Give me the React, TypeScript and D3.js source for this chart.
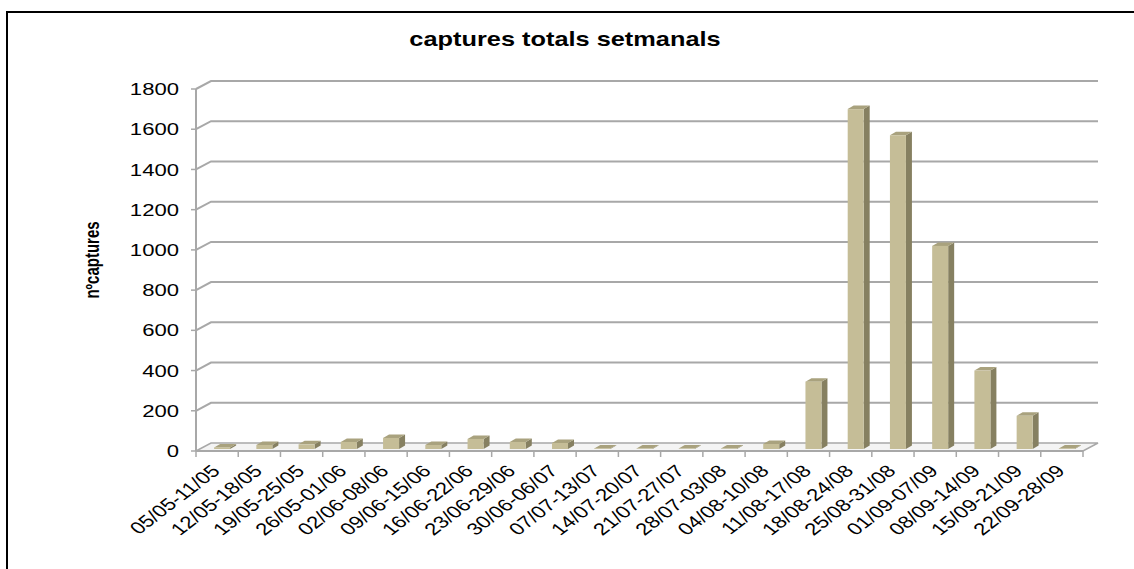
import React from "react";
import * as d3 from "d3";

const categories = [
  "05/05-11/05", "12/05-18/05", "19/05-25/05", "26/05-01/06", "02/06-08/06",
  "09/06-15/06", "16/06-22/06", "23/06-29/06", "30/06-06/07", "07/07-13/07",
  "14/07-20/07", "21/07-27/07", "28/07-03/08", "04/08-10/08", "11/08-17/08",
  "18/08-24/08", "25/08-31/08", "01/09-07/09", "08/09-14/09", "15/09-21/09",
  "22/09-28/09",
];
const values = [8, 20, 23, 35, 55, 20, 50, 35, 30, 3, 2, 2, 2, 25, 335, 1690, 1560, 1010, 390, 165, 3];
const yTicks = [0, 200, 400, 600, 800, 1000, 1200, 1400, 1600, 1800];
const title = "captures totals setmanals";
const yTitle = "nºcaptures";

const W = 1134;
const H = 569;
const FONT = "'Liberation Sans', Arial, Helvetica, sans-serif";
const SX = 1.3;
const DX = 15;
const DY = -8;
const GRID = "#a8a8a8";

export default function App() {
  const x = d3.scaleBand<string>().domain(categories).range([196, 1083]).padding(0);
  const y = d3.scaleLinear().domain([0, 1800]).range([451, 89]);
  const bw = x.bandwidth();
  const y0 = y(0);

  const barW = 16;
  const bdx = 6;
  const bdy = -3.5;
  const offY = -2;

  return (
    <svg width={W} height={H} style={{ position: "absolute", left: 0, top: 0, background: "#fff" }}>
      {/* frame */}
      <rect x={7} y={12} width={1150} height={600} fill="none" stroke="#000" strokeWidth={2} />

      {/* title */}
      <text
        transform={`translate(565,46) scale(${SX},1)`}
        textAnchor="middle"
        fontFamily={FONT}
        fontWeight="bold"
        fontSize={19.5}
        fill="#000"
      >
        {title}
      </text>

      {/* floor */}
      <polygon
        points={`196,${y0} ${196 + DX},${y0 + DY} ${1083 + DX},${y0 + DY} 1083,${y0}`}
        fill="#f4f4f4"
        stroke={GRID}
        strokeWidth={1.5}
      />

      {/* gridlines with depth */}
      {yTicks.map((t) => (
        <g key={t}>
          {t > 0 && (
            <polyline
              points={`196,${y(t)} ${196 + DX},${y(t) + DY} ${1083 + DX},${y(t) + DY}`}
              fill="none"
              stroke={GRID}
              strokeWidth={2}
            />
          )}
          <line x1={191} x2={196} y1={y(t)} y2={y(t)} stroke={GRID} strokeWidth={1.5} />
          <text
            transform={`translate(179,${y(t)}) scale(${SX},1)`}
            textAnchor="end"
            dy="0.36em"
            fontFamily={FONT}
            fontSize={17}
            fill="#000"
          >
            {t}
          </text>
        </g>
      ))}

      {/* y axis line */}
      <line x1={196} x2={196} y1={y(1800)} y2={y0} stroke={GRID} strokeWidth={2} />

      {/* x axis front line and ticks */}
      <line x1={196} x2={1083} y1={y0} y2={y0} stroke={GRID} strokeWidth={2} />
      {categories.map((c, i) => (
        <line key={"t" + c} x1={x(c)!} x2={x(c)!} y1={y0} y2={y0 + 6} stroke={GRID} strokeWidth={1.5} />
      ))}
      <line x1={1083} x2={1083} y1={y0} y2={y0 + 6} stroke={GRID} strokeWidth={1.5} />

      {/* bars */}
      {categories.map((c, i) => {
        const xc = x(c)! + bw / 2;
        const l = xc - 3;
        const r = l + barW;
        const top = y(values[i]) + offY;
        const bot = y0 + offY;
        return (
          <g key={"b" + c}>
            <polygon
              points={`${r},${bot} ${r + bdx},${bot + bdy} ${r + bdx},${top + bdy} ${r},${top}`}
              fill="#868061"
            />
            <polygon
              points={`${l},${top} ${l + bdx},${top + bdy} ${r + bdx},${top + bdy} ${r},${top}`}
              fill="#a9a27e"
            />
            <rect x={l} y={top} width={barW} height={Math.max(0, bot - top)} fill="#c5bd97" />
          </g>
        );
      })}

      {/* x labels */}
      {categories.map((c) => (
        <text
          key={"l" + c}
          transform={`translate(${x(c)! + bw / 2 + 4},472) scale(${SX},1) rotate(-45)`}
          textAnchor="end"
          fontFamily={FONT}
          fontSize={17}
          fill="#000"
        >
          {c}
        </text>
      ))}

      {/* y title */}
      <text
        transform={`translate(99,260) scale(${SX},1) rotate(-90)`}
        textAnchor="middle"
        fontFamily={FONT}
        fontWeight="bold"
        fontSize={15}
        fill="#000"
      >
        {yTitle}
      </text>
    </svg>
  );
}
